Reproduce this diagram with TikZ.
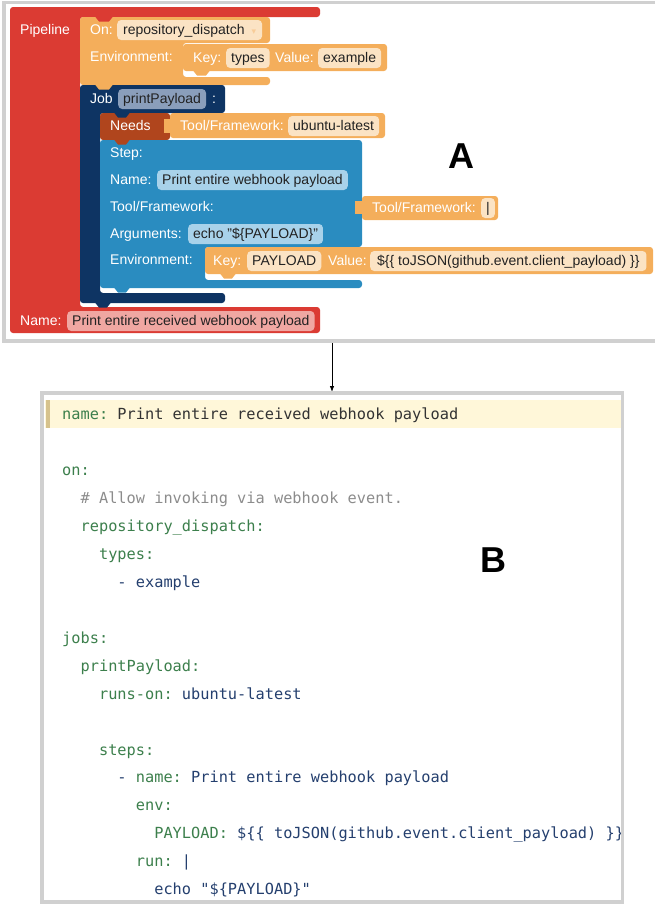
\documentclass[tikz,border=0pt]{standalone}
\usepackage{fontspec}
\setmainfont{Liberation Sans}
\newfontfamily\codefont[WordSpace={1,0,0}]{DejaVu Sans Mono}
\newfontfamily\symbfont{DejaVu Sans}
\usetikzlibrary{arrows.meta}
\definecolor{pred}{HTML}{DB3B33}
\definecolor{porange}{HTML}{F4AE5B}
\definecolor{pnavy}{HTML}{0E3463}
\definecolor{pbrown}{HTML}{B0451D}
\definecolor{pblue}{HTML}{2A8CC0}
\definecolor{pillor}{HTML}{FBE3C4}
\definecolor{pillnv}{HTML}{8A9EBB}
\definecolor{pillbl}{HTML}{A8D2EA}
\definecolor{pillrd}{HTML}{F0A7A2}
\definecolor{txtdark}{HTML}{222222}
\definecolor{framegray}{HTML}{D0D0D0}
\definecolor{hlyellow}{HTML}{FFF7D9}
\definecolor{hlbar}{HTML}{D6C28C}
\definecolor{keyc}{HTML}{3C7F4C}
\definecolor{valc}{HTML}{243F6E}
\definecolor{cmtc}{HTML}{8C8C8C}
\definecolor{namec}{HTML}{333333}
\definecolor{arrowc}{HTML}{F8CC98}
\newcommand\blktab[4]{\fill[#1] (#2,#4) -- (#2+4,#4+5) -- (#3-4,#4+5) -- (#3,#4) -- cycle;}
\newcommand\ky[1]{\textcolor{keyc}{#1}}
\newcommand\vl[1]{\textcolor{valc}{#1}}
\frenchspacing
\begin{document}
\begin{tikzpicture}[x=1pt,y=-1pt,
  lbl/.style={anchor=west, inner sep=0pt, text=white, font=\fontsize{14}{16}\selectfont, text height=11pt, text depth=2pt},
  pill/.style={anchor=west, inner xsep=5pt, inner ysep=3.5pt, text height=11pt, text depth=2pt, rounded corners=4pt, fill=#1, text=txtdark, font=\fontsize{14}{16}\selectfont},
  blk/.style={fill=#1, rounded corners=3pt},
  code/.style={anchor=base west, inner sep=0pt, font=\codefont\frenchspacing\fontsize{15.3}{18}\selectfont},
  big/.style={font=\bfseries\fontsize{36}{36}\selectfont, inner sep=0pt},
  frame/.style={draw=framegray, line width=3.5pt}
]
\useasboundingbox (0,0) rectangle (655,905);
% ---------- panel A frame
\draw[frame] (655,2.5) -- (4,2.5) -- (4,341) -- (655,341);
% ---------- blocks
\fill[blk=pred] (10,7) -- (320,7) -- (320,17) -- (80,17) -- (80,307) -- (320,307) -- (320,333) -- (10,333) -- cycle;
\fill[blk=porange] (80,17) -- (270,17) -- (270,43) -- (183,43) -- (183,77) -- (270,77) -- (270,85) -- (80,85) -- cycle;
\blktab{pred}{95}{113}{16.5}
\fill[blk=porange] (183,44) rectangle (387,71);
\blktab{porange}{193}{210}{70.5}
\fill[blk=pnavy] (80,85) -- (225,85) -- (225,113) -- (100,113) -- (100,293) -- (225,293) -- (225,303) -- (80,303) -- cycle;
\blktab{porange}{95}{113}{84.5}
\fill[blk=pbrown] (100,113) rectangle (170,140);
\blktab{pnavy}{114}{130}{112.5}
\fill[blk=porange] (170,113) rectangle (385,138);
\fill[porange] (164,119) rectangle (171,133);
\fill[blk=pblue] (100,140) -- (362,140) -- (362,247) -- (205,247) -- (205,280) -- (362,280) -- (362,288) -- (100,288) -- cycle;
\blktab{pbrown}{114}{130}{139.5}
\blktab{pblue}{114}{130}{287.5}
\blktab{pnavy}{95}{111}{302.5}
\fill[blk=porange] (362,196) rectangle (498,220);
\fill[porange] (355,201) rectangle (363,214);
\fill[blk=porange] (205,247) rectangle (653,274);
\blktab{porange}{220}{236}{273.5}
% ---------- labels and fields
\node[lbl] (lpipe) at (20,30) {Pipeline};
\node[lbl] (lon) at (90,30) {On:};
\node[pill=pillor, inner xsep=6pt] (pon) at (117,30) {repository\_dispatch\hspace{7pt}{\symbfont\fontsize{9}{9}\selectfont\textcolor{arrowc}{▾}}};
\node[lbl] (lenv1) at (90,57) {Environment:};
\node[lbl] (lkey1) at (193,58) {Key:};
\node[pill=pillor] (pkey1) at (226,58) {types};
\node[lbl] (lval1) at (275,58) {Value:};
\node[pill=pillor] (pval1) at (318,58) {example};
\node[lbl] (ljob) at (90,99) {Job};
\node[pill=pillnv] (pjob) at (118,99) {printPayload};
\node[lbl] (lcolon) at (212,99) {:};
\node[lbl] (lneeds) at (110,126) {Needs};
\node[lbl] (ltf1) at (180,126) {Tool/Framework:};
\node[pill=pillor] (ptf1) at (288,126) {ubuntu-latest};
\node[lbl] (lstep) at (110,153) {Step:};
\node[lbl] (lname1) at (110,180) {Name:};
\node[pill=pillbl] (pname1) at (157,180) {Print entire webhook payload};
\node[lbl] (ltf2) at (110,207) {Tool/Framework:};
\node[lbl] (ltf3) at (372,208) {Tool/Framework:};
\node[pill=pillor] (ptf3) at (481,208) {\textbar};
\node[lbl] (largs) at (110,234) {Arguments:};
\node[pill=pillbl] (pargs) at (188,234) {echo "\$\{PAYLOAD\}"};
\node[lbl] (lenv2) at (110,260) {Environment:};
\node[lbl] (lkey2) at (213,261) {Key:};
\node[pill=pillor] (pkey2) at (247,261) {PAYLOAD};
\node[lbl] (lval2) at (328,261) {Value:};
\node[pill=pillor, inner xsep=7pt] (pval2) at (370,261) {\$\{\{ toJSON(github.event.client\_payload) \}\}};
\node[lbl] (lname2) at (20,321) {Name:};
\node[pill=pillrd] (pname2) at (67,321) {Print entire received webhook payload};
\node[big] (bigA) at (461,156) {A};
% ---------- connector
\coordinate (Abot) at (332,343);
\coordinate (Btop) at (332,392);
\draw[line width=0.8pt, -{Latex[length=6pt,width=4.5pt]}] (Abot) -- (Btop);
% ---------- panel B
\fill[hlyellow] (45,400) rectangle (620.5,428);
\fill[hlbar] (46,400) rectangle (49.5,428);
\begin{scope}
\clip (44,395) rectangle (620.5,900);
\node[code] (c0) at (62,419) {\ky{name:} \textcolor{namec}{Print entire received webhook payload}};
\node[code] (c2) at (62,{420+2*27.92}) {\ky{on:}};
\node[code] (c3) at ({62+2*9.21},{420+3*27.92}) {\textcolor{cmtc}{\# Allow invoking via webhook event.}};
\node[code] (c4) at ({62+2*9.21},{420+4*27.92}) {\ky{repository\_dispatch:}};
\node[code] (c5) at ({62+4*9.21},{420+5*27.92}) {\ky{types:}};
\node[code] (c6) at ({62+6*9.21},{420+6*27.92}) {\vl{- example}};
\node[code] (c8) at (62,{420+8*27.92}) {\ky{jobs:}};
\node[code] (c9) at ({62+2*9.21},{420+9*27.92}) {\ky{printPayload:}};
\node[code] (c10) at ({62+4*9.21},{420+10*27.92}) {\ky{runs-on:} \vl{ubuntu-latest}};
\node[code] (c12) at ({62+4*9.21},{420+12*27.92}) {\ky{steps:}};
\node[code] (c13) at ({62+6*9.21},{420+13*27.92}) {\vl{-} \ky{name:} \vl{Print entire webhook payload}};
\node[code] (c14) at ({62+8*9.21},{420+14*27.92}) {\ky{env:}};
\node[code] (c15) at ({62+10*9.21},{420+15*27.92}) {\ky{PAYLOAD:} \vl{\$\{\{ toJSON(github.event.client\_payload) \}\}}};
\node[code] (c16) at ({62+8*9.21},{420+16*27.92}) {\ky{run:} \vl{|}};
\node[code] (c17) at ({62+10*9.21},{420+17*27.92}) {\vl{echo "\$\{PAYLOAD\}"}};
\end{scope}
\draw[frame] (42,393) rectangle (622.5,902);
\node[big] (bigB) at (493,560) {B};
\end{tikzpicture}
\end{document}
